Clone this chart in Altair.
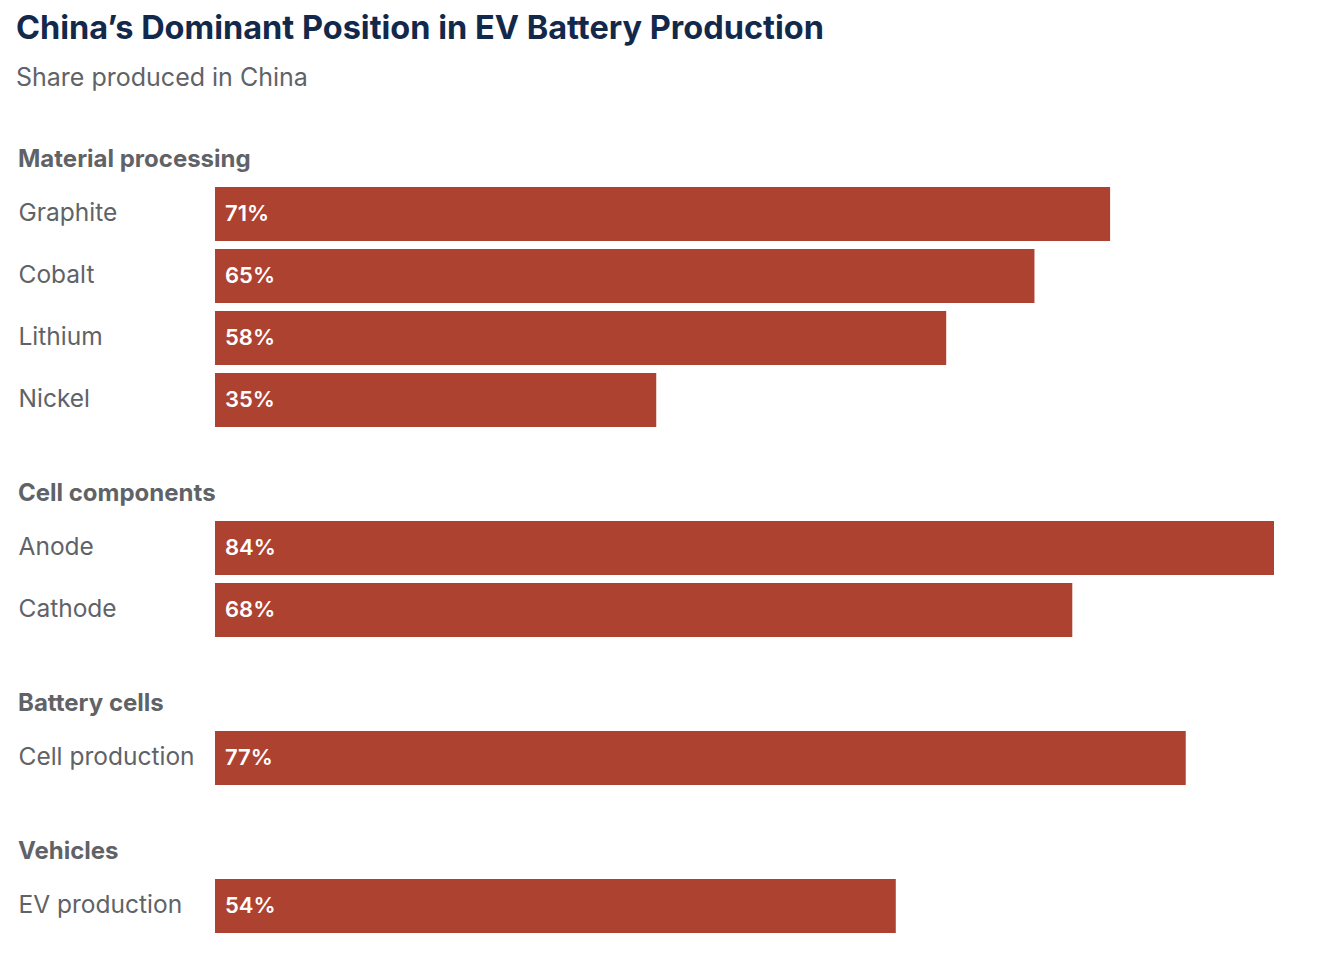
import altair as alt
import pandas as pd

groups = ["Material processing", "Cell components", "Battery cells", "Vehicles"]
items = [
    ["Graphite", "Cobalt", "Lithium", "Nickel"],
    ["Anode", "Cathode"],
    ["Cell production"],
    ["EV production"],
]
values = [
    [71, 65, 58, 35],
    [84, 68],
    [77],
    [54],
]

FONT = "Inter"
BAR = "#AE4230"
LABEL = "#5F6368"
TITLE = "#13294B"
STEP = 62

rows = []
for g, its, vs in zip(groups, items, values):
    for it, v in zip(its, vs):
        rows.append({"group": g, "item": it, "value": v})
df = pd.DataFrame(rows)


def panel(g, its):
    n = len(its)
    base = alt.Chart(df[df.group == g]).encode(
        y=alt.Y(
            "item:N",
            sort=its,
            title=None,
            scale=alt.Scale(paddingInner=0.13, paddingOuter=0.065),
            axis=alt.Axis(
                labelAlign="left",
                labelPadding=197,
                ticks=False,
                domain=False,
                grid=False,
                labelFont=FONT,
                labelFontSize=24.5,
                labelColor=LABEL,
            ),
        )
    )
    bars = base.mark_bar(color=BAR).encode(
        x=alt.X("value:Q", scale=alt.Scale(domain=[0, 84], nice=False), axis=None)
    )
    text = base.transform_calculate(label="datum.value + '%'").mark_text(
        align="left", dx=10, color="white", font=FONT, fontWeight=600, fontSize=22
    ).encode(x=alt.datum(0), text="label:N")
    return (bars + text).properties(
        width=1059,
        height=STEP * n,
        title=alt.TitleParams(
            g,
            anchor="start",
            frame="bounds",
            font=FONT,
            fontSize=24,
            fontWeight="bold",
            color=LABEL,
            offset=11,
        ),
    )


chart = alt.vconcat(
    *[panel(g, its) for g, its in zip(groups, items)], spacing=51
).properties(
    title=alt.TitleParams(
        "China\u2019s Dominant Position in EV Battery Production",
        subtitle="Share produced in China",
        anchor="start",
        frame="bounds",
        font=FONT,
        fontSize=32.5,
        fontWeight="bold",
        color=TITLE,
        subtitleFont=FONT,
        subtitleFontSize=25,
        subtitleColor=LABEL,
        subtitlePadding=21,
        offset=57,
        dx=-2,
    ),
    padding={"left": 8, "top": 4, "right": 5, "bottom": 5},
).configure_view(stroke=None)

chart.save("out.html", embed_options={"renderer": "svg", "actions": False})
